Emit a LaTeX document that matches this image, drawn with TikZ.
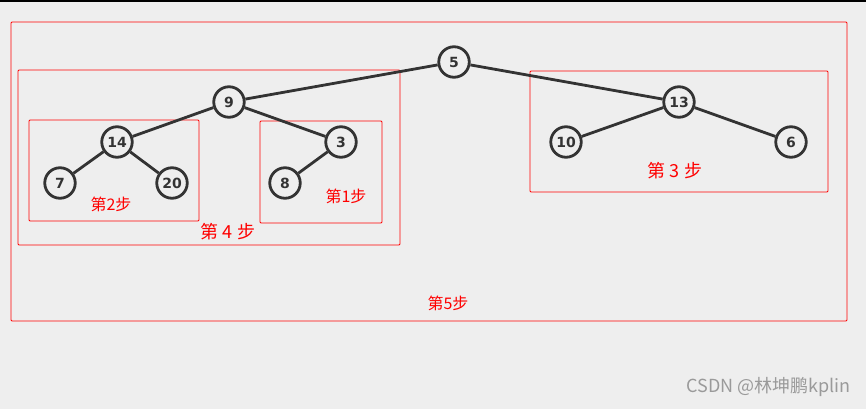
\documentclass[tikz,border=0pt]{standalone}
\usepackage{fontspec}
\setmainfont{DejaVu Sans}
\newfontfamily\cjk{Noto Sans CJK SC}
\definecolor{bg}{HTML}{EEEEEE}
\definecolor{ink}{HTML}{333333}
\definecolor{wm}{HTML}{9A9A9A}
\begin{document}
\begin{tikzpicture}[x=1pt,y=-1pt,
  tnode/.style={circle,draw=ink,line width=2.8pt,fill=bg,minimum size=30.5pt,inner sep=0pt,
    font=\fontsize{14}{14}\selectfont\bfseries,text=ink},
  edge/.style={draw=ink,line width=2.8pt},
  stepbox/.style={draw=red,line width=0.9pt,rounded corners=1pt},
  steplbl/.style={text=red,font=\cjk\fontsize{16}{16}\selectfont,inner sep=0pt},
  biglbl/.style={text=red,font=\cjk\fontsize{18}{18}\selectfont,inner sep=0pt}]
\useasboundingbox (0,0) rectangle (866,409);
\fill[bg] (0,0) rectangle (866,409);
\fill[black] (0,0) rectangle (866,2.5);
% boxes
\draw[stepbox] (11,22) rectangle (847,321);
\draw[stepbox] (18,70) rectangle (400,245);
\draw[stepbox] (29,120) rectangle (199,221);
\draw[stepbox] (260,121) rectangle (382,223);
\draw[stepbox] (530,71) rectangle (828,192);
% nodes
\node[tnode] (n5) at (454,62) {5};
\node[tnode] (n9) at (229,102) {9};
\node[tnode] (n13) at (679,102) {13};
\node[tnode] (n14) at (117,142) {14};
\node[tnode] (n3) at (341,142) {3};
\node[tnode] (n7) at (60,183) {7};
\node[tnode] (n20) at (172,183) {20};
\node[tnode] (n8) at (285,183) {8};
\node[tnode] (n10) at (566,142) {10};
\node[tnode] (n6) at (791,142) {6};
% edges
\draw[edge] (n5) -- (n9);
\draw[edge] (n5) -- (n13);
\draw[edge] (n9) -- (n14);
\draw[edge] (n9) -- (n3);
\draw[edge] (n14) -- (n7);
\draw[edge] (n14) -- (n20);
\draw[edge] (n3) -- (n8);
\draw[edge] (n13) -- (n10);
\draw[edge] (n13) -- (n6);
% labels
\node[steplbl] (l1) at (346,196) {第1步};
\node[steplbl] (l2) at (111,204) {第2步};
\node[biglbl] (l4) at (228,232) {第 4 步};
\node[biglbl] (l3) at (675,171) {第 3 步};
\node[steplbl] (l5) at (448,303) {第5步};
\node[anchor=east,text=wm,font=\cjk\fontsize{18}{18}\selectfont,inner sep=0pt] (wmk) at (851,387) {CSDN @林坤鹏kplin};
\end{tikzpicture}
\end{document}
